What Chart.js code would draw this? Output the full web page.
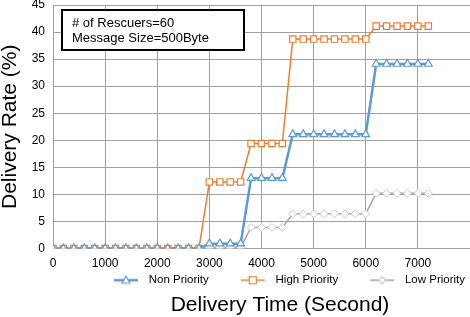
<!DOCTYPE html>
<html>
<head>
<meta charset="utf-8">
<script src="https://cdn.jsdelivr.net/npm/chart.js@4"></script>
<style>
  html, body { margin: 0; padding: 0; background: #fff; }
  #wrap { width: 470px; height: 317px; }
</style>
</head>
<body>
<div id="wrap"><canvas id="rate-chart"></canvas></div>
<script>
const times = [0, 200, 400, 600, 800, 1000, 1200, 1400, 1600, 1800, 2000, 2200, 2400, 2600, 2800,
    3000, 3200, 3400, 3600, 3800, 4000, 4200, 4400, 4600, 4800, 5000, 5200, 5400, 5600, 5800, 6000,
    6200, 6400, 6600, 6800, 7000, 7200];

const nonPriority = [0, 0, 0, 0, 0, 0, 0, 0, 0, 0, 0, 0, 0, 0, 0,
    0.9, 0.9, 0.9, 0.9, 13, 13, 13, 13, 21.1, 21.1, 21.1, 21.1, 21.1, 21.1, 21.1, 21.1,
    34.1, 34.1, 34.1, 34.1, 34.1, 34.1];

const highPriority = [0, 0, 0, 0, 0, 0, 0, 0, 0, 0, 0, 0, 0, 0, 0,
    12.3, 12.3, 12.3, 12.3, 19.4, 19.4, 19.4, 19.4, 38.7, 38.7, 38.7, 38.7, 38.7, 38.7, 38.7, 38.7,
    41.1, 41.1, 41.1, 41.1, 41.1, 41.1];

const lowPriority = [0, 0, 0, 0, 0, 0, 0, 0, 0, 0, 0, 0, 0, 0, 0,
    0.2, 0.2, 0.2, 0.2, 3.9, 3.9, 3.9, 3.9, 6.4, 6.4, 6.4, 6.4, 6.4, 6.4, 6.4, 6.4,
    10.2, 10.2, 10.2, 10.2, 10.2, 10.2];

const seriesNames = ['Non Priority', 'High Priority', 'Low Priority'];
const noteLines = ['# of Rescuers=60', 'Message Size=500Byte'];
const xTitle = 'Delivery Time (Second)';

const FONT = '"Liberation Sans", Arial, Helvetica, sans-serif';

function toPoints(values) {
    return values.map((v, i) => ({ x: times[i], y: v }));
}

// legend sample: short line with the marker in the middle
function legendSample(color, markerColor, shape, lineWidth) {
    const c = document.createElement('canvas');
    c.width = 56;
    c.height = 12;
    const ctx = c.getContext('2d');
    ctx.strokeStyle = color;
    ctx.lineWidth = lineWidth;
    ctx.beginPath();
    ctx.moveTo(27, 6);
    ctx.lineTo(51, 6);
    ctx.stroke();
    ctx.fillStyle = '#fff';
    ctx.strokeStyle = markerColor;
    ctx.lineWidth = 1.2;
    ctx.beginPath();
    const cx = 39, cy = 6;
    if (shape === 'triangle') {
        ctx.moveTo(cx, cy - 4);
        ctx.lineTo(cx + 4, cy + 3);
        ctx.lineTo(cx - 4, cy + 3);
        ctx.closePath();
    } else if (shape === 'rect') {
        ctx.rect(cx - 3.5, cy - 3.5, 7, 7);
    } else {
        ctx.moveTo(cx, cy - 3.5);
        ctx.lineTo(cx + 3.5, cy);
        ctx.lineTo(cx, cy + 3.5);
        ctx.lineTo(cx - 3.5, cy);
        ctx.closePath();
    }
    ctx.fill();
    ctx.stroke();
    return c;
}

const samples = [
    legendSample('#5b9bd5', '#5b9bd5', 'triangle', 2.5),
    legendSample('#ed7d31', '#ed7d31', 'rect', 1.5),
    legendSample('#a5a5a5', '#c8c8c8', 'diamond', 1.5)
];

// note box in the top left corner and the x axis title under the legend
const extraText = {
    id: 'extraText',
    afterDraw(chart) {
        const ctx = chart.ctx;
        ctx.save();
        ctx.fillStyle = '#fff';
        ctx.fillRect(62, 10, 182, 40);
        ctx.strokeStyle = '#000';
        ctx.lineWidth = 2;
        ctx.strokeRect(62, 10, 182, 40);
        ctx.fillStyle = '#000';
        ctx.font = '13px ' + FONT;
        ctx.textBaseline = 'middle';
        ctx.fillText(noteLines[0], 72, 23);
        ctx.fillText(noteLines[1], 72, 38);

        ctx.font = '21px ' + FONT;
        ctx.textAlign = 'center';
        ctx.fillText(xTitle, 280, 305);
        ctx.restore();
    }
};

new Chart(document.getElementById('rate-chart'), {
    type: 'line',
    data: {
        datasets: [
            {
                label: seriesNames[0],
                data: toPoints(nonPriority),
                borderColor: '#5b9bd5',
                borderWidth: 2.5,
                pointStyle: 'triangle',
                pointRadius: 4.5,
                pointBorderWidth: 1.2,
                pointBorderColor: '#5b9bd5',
                pointBackgroundColor: '#fff'
            },
            {
                label: seriesNames[1],
                data: toPoints(highPriority),
                borderColor: '#ed7d31',
                borderWidth: 1.5,
                pointStyle: 'rect',
                pointRadius: 4.5,
                pointBorderWidth: 1.2,
                pointBorderColor: '#ed7d31',
                pointBackgroundColor: '#fff'
            },
            {
                label: seriesNames[2],
                data: toPoints(lowPriority),
                borderColor: '#a5a5a5',
                borderWidth: 1.5,
                pointStyle: 'rectRot',
                pointRadius: 4,
                pointBorderWidth: 1,
                pointBorderColor: '#c8c8c8',
                pointBackgroundColor: '#fff'
            }
        ]
    },
    options: {
        responsive: true,
        maintainAspectRatio: false,
        animation: false,
        layout: { autoPadding: false, padding: { top: 5, right: 0, left: 0, bottom: 21 } },
        scales: {
            x: {
                type: 'linear',
                min: 0,
                max: 8000,
                afterFit: s => {
                    s.height = 21;
                    s.paddingLeft = 0;
                    s.paddingRight = 0;
                },
                grid: {
                    color: ctx => (ctx.tick && ctx.tick.value === 8000 ? 'rgba(0,0,0,0)' : '#a0a0a0'),
                    lineWidth: 1,
                    drawTicks: false
                },
                border: { color: '#a0a0a0' },
                ticks: {
                    stepSize: 1000,
                    padding: 8,
                    maxRotation: 0,
                    color: '#000',
                    font: { family: FONT, size: 12 },
                    callback: v => (v === 8000 ? '' : v)
                }
            },
            y: {
                min: 0,
                max: 45,
                afterFit: s => {
                    s.width = 53;
                    s.paddingTop = 0;
                    s.paddingBottom = 0;
                },
                grid: { color: '#a0a0a0', lineWidth: 1, drawTicks: false },
                border: { color: '#a0a0a0' },
                ticks: {
                    stepSize: 5,
                    padding: 8,
                    color: '#000',
                    font: { family: FONT, size: 12 }
                },
                title: {
                    display: true,
                    text: 'Delivery Rate (%)',
                    color: '#000',
                    padding: { top: 0, bottom: 0 },
                    font: { family: FONT, size: 21, lineHeight: 1 }
                }
            }
        },
        plugins: {
            legend: {
                position: 'bottom',
                align: 'end',
                labels: {
                    usePointStyle: true,
                    pointStyleWidth: 56,
                    boxHeight: 12,
                    padding: 5,
                    color: '#000',
                    font: { family: FONT, size: 11.5 },
                    generateLabels(chart) {
                        return chart.data.datasets.map((ds, i) => ({
                            text: ds.label,
                            pointStyle: samples[i],
                            fillStyle: 'transparent',
                            strokeStyle: 'transparent',
                            lineWidth: 0,
                            hidden: false,
                            datasetIndex: i,
                            fontColor: '#000'
                        }));
                    }
                }
            },
            tooltip: { enabled: false }
        }
    },
    plugins: [extraText]
});
</script>
</body>
</html>
